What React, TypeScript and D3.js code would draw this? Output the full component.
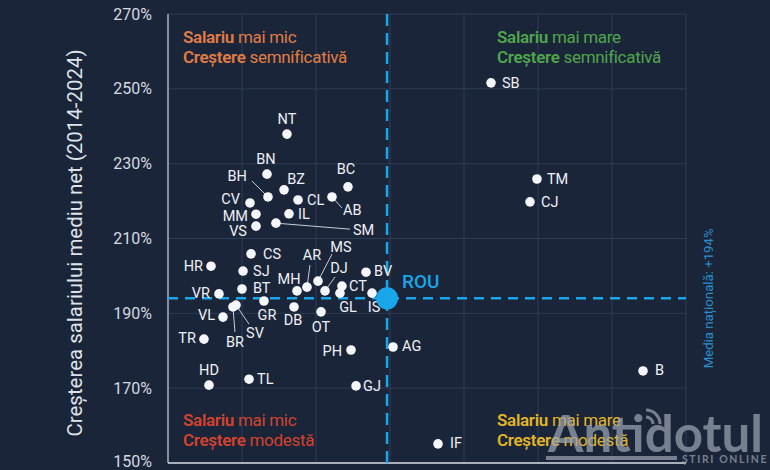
import React from "react";
import * as d3 from "d3";

// Counties (abbrev), 2024 average net salary (lei, approximate), growth 2014-2024 (%)
const counties = ["NT","BN","BH","BZ","CL","AB","BC","CV","MM","IL","VS","SM","CS","HR","SJ","BT","VR","GR","BR","SV","VL","TR","MH","AR","MS","DJ","CT","GL","DB","OT","BV","IS","PH","HD","TL","GJ","AG","B","IF","SB","TM","CJ"];
const salary = [3608,3338,3351,3568,3757,4216,4432,3108,3189,3635,3189,3459,3122,2581,3014,3000,2689,3297,2878,2919,2743,2486,3743,3878,4027,4122,4351,4324,3703,4068,4676,4757,4473,2554,3095,4541,5041,8419,5649,6365,6986,6892];
const growth = [237.9,227.2,221.1,223.0,220.3,221.1,223.8,219.5,216.5,216.6,213.3,214.1,205.9,202.6,201.3,196.5,195.2,193.3,191.7,192.2,189.0,183.1,196.0,197.0,198.6,196.0,197.3,195.4,191.7,190.4,201.0,195.4,180.2,170.8,172.4,170.6,181.0,174.6,155.1,251.6,225.9,219.8];

const nationalSalary = 4960;
const nationalGrowth = 194;
const yTicks = [150, 170, 190, 210, 230, 250, 270];
const xGrid = [2000, 3000, 4000, 5000, 6000, 7000, 8000, 9000];

// label placement (offsets in px from the dot), kept apart from the data
type P = { dx: number; dy: number; a: "start" | "middle" | "end"; l?: [number, number] };
const placement: Record<string, P> = {
  NT: { dx: 0, dy: -15, a: "middle" },
  BN: { dx: -1, dy: -15, a: "middle" },
  BH: { dx: -21, dy: -21, a: "end", l: [-16, -16] },
  BZ: { dx: 12, dy: -11, a: "middle" },
  CL: { dx: 9, dy: 0, a: "start" },
  AB: { dx: 11, dy: 13, a: "start", l: [10, 11] },
  BC: { dx: -2, dy: -18, a: "middle" },
  CV: { dx: -10, dy: -4, a: "end" },
  MM: { dx: -8, dy: 2, a: "end" },
  IL: { dx: 9, dy: 0, a: "start" },
  VS: { dx: -9, dy: 5, a: "end" },
  SM: { dx: 77, dy: 7, a: "start", l: [74, 6] },
  CS: { dx: 12, dy: 0, a: "start" },
  HR: { dx: -8, dy: 0, a: "end" },
  SJ: { dx: 10, dy: 0, a: "start" },
  BT: { dx: 11, dy: -1, a: "start" },
  VR: { dx: -9, dy: -1, a: "end" },
  GR: { dx: 3, dy: 14, a: "middle" },
  BR: { dx: 2, dy: 35, a: "middle", l: [2, 25] },
  SV: { dx: 19, dy: 28, a: "middle", l: [13, 19] },
  VL: { dx: -8, dy: -2, a: "end" },
  TR: { dx: -8, dy: -1, a: "end" },
  MH: { dx: -8, dy: -12, a: "middle" },
  AR: { dx: 5, dy: -32, a: "middle", l: [3, -22] },
  MS: { dx: 23, dy: -34, a: "middle", l: [14, -27] },
  DJ: { dx: 14, dy: -23, a: "middle", l: [10, -14] },
  CT: { dx: 7, dy: 0, a: "start" },
  GL: { dx: 8, dy: 14, a: "middle" },
  DB: { dx: -1, dy: 13, a: "middle" },
  OT: { dx: 0, dy: 15, a: "middle" },
  BV: { dx: 8, dy: -1, a: "start" },
  IS: { dx: 2, dy: 14, a: "middle" },
  PH: { dx: -9, dy: 1, a: "end" },
  HD: { dx: 0, dy: -15, a: "middle" },
  TL: { dx: 8, dy: 0, a: "start" },
  GJ: { dx: 7, dy: 0, a: "start" },
  AG: { dx: 9, dy: -1, a: "start" },
  B: { dx: 12, dy: -1, a: "start" },
  IF: { dx: 12, dy: -1, a: "start" },
  SB: { dx: 11, dy: 0, a: "start" },
  TM: { dx: 10, dy: 0, a: "start" },
  CJ: { dx: 11, dy: 0, a: "start" },
};

const W = 770, H = 470;
const M = { left: 168, right: 686, top: 14, bottom: 463 };
const BG = "#1b2539";
const GRID = "#2e3c57";
const BLUE = "#1aa6ea";
const FONT = "Roboto, 'Noto Sans', sans-serif";

export default function App() {
  const x = d3.scaleLinear().domain([2000, 9000]).range([M.left, M.right]);
  const y = d3.scaleLinear().domain([150, 270]).range([M.bottom, M.top]);

  const quad = (
    x0: number, y0: number, color: string, a: string, b: string, c: string, d: string
  ) => (
    <g fill={color} fontFamily={FONT} fontSize={17} letterSpacing={-0.3}>
      <text x={x0} y={y0} dy="0.35em">
        <tspan fontWeight={600}>{a}</tspan>
        <tspan fontWeight={400}>{" " + b}</tspan>
      </text>
      <text x={x0} y={y0 + 20} dy="0.35em">
        <tspan fontWeight={600}>{c}</tspan>
        <tspan fontWeight={400}>{" " + d}</tspan>
      </text>
    </g>
  );

  return (
    <svg width={W} height={H} style={{ position: "absolute", left: 0, top: 0, background: BG }}>
      <rect x={0} y={0} width={W} height={H} fill={BG} />
      {/* grid */}
      {yTicks.map((t) => (
        <line key={"gy" + t} x1={M.left} x2={M.right} y1={y(t)} y2={y(t)} stroke={GRID} strokeWidth={1} />
      ))}
      {xGrid.map((t) => (
        <line key={"gx" + t} x1={x(t)} x2={x(t)} y1={M.top} y2={M.bottom} stroke={GRID} strokeWidth={1} />
      ))}
      {/* axes */}
      <line x1={M.left} x2={M.left} y1={M.top} y2={M.bottom} stroke="#c9ced8" strokeWidth={1.2} />
      <line x1={M.left} x2={M.right} y1={M.bottom} y2={M.bottom} stroke="#d6dae2" strokeWidth={1.5} />
      {yTicks.map((t) => (
        <text key={"ty" + t} x={152} y={Math.min(y(t), 461)} dy="0.35em" textAnchor="end" fill="#d5d9e0"
          fontFamily={FONT} fontSize={16}>{t}%</text>
      ))}
      <text transform={`translate(75,243) rotate(-90)`} textAnchor="middle" dy="0.35em"
        fill="#dfe3ea" fontFamily={FONT} fontSize={20} textLength={387} lengthAdjust="spacingAndGlyphs">
        Creșterea salariului mediu net (2014-2024)
      </text>

      {/* quadrant labels */}
      {quad(183, 37, "#e07d45", "Salariu", "mai mic", "Creștere", "semnificativă")}
      {quad(497, 37, "#4fa64b", "Salariu", "mai mare", "Creștere", "semnificativă")}
      {quad(183, 420, "#d2432f", "Salariu", "mai mic", "Creștere", "modestă")}
      {quad(497, 420, "#e2b526", "Salariu", "mai mare", "Creștere", "modestă")}

      {/* national average lines */}
      <line x1={M.left} x2={M.right} y1={y(nationalGrowth)} y2={y(nationalGrowth)} stroke={BLUE}
        strokeWidth={2.5} strokeDasharray="10 7" />
      <line x1={x(nationalSalary)} x2={x(nationalSalary)} y1={M.top} y2={M.bottom} stroke={BLUE}
        strokeWidth={2.5} strokeDasharray="12 7" />
      <text transform={`translate(708,${y(nationalGrowth)}) rotate(-90)`} textAnchor="middle" dy="0.35em"
        fill="#2a8fd0" fontFamily={FONT} fontSize={13.5} textLength={140} lengthAdjust="spacingAndGlyphs">
        Media națională: +194%
      </text>

      {/* leader lines */}
      {counties.map((c, i) => {
        const p = placement[c];
        if (!p || !p.l) return null;
        const cx = x(salary[i]), cy = y(growth[i]);
        return <line key={"l" + c} x1={cx} y1={cy} x2={cx + p.l[0]} y2={cy + p.l[1]} stroke="#c7ccd6" strokeWidth={1} />;
      })}
      {/* points */}
      {counties.map((c, i) => (
        <circle key={"p" + c} cx={x(salary[i])} cy={y(growth[i])} r={4.8} fill="#f4f6f9" />
      ))}
      {counties.map((c, i) => {
        const p = placement[c];
        return (
          <text key={"t" + c} x={x(salary[i]) + p.dx} y={y(growth[i]) + p.dy} dy="0.35em" textAnchor={p.a}
            fill="#eef1f5" fontFamily={FONT} fontSize={14.5}>{c}</text>
        );
      })}
      {/* national point */}
      <circle cx={x(nationalSalary)} cy={y(nationalGrowth)} r={11} fill={BLUE} />
      <text x={x(nationalSalary) + 15} y={y(nationalGrowth) - 17} dy="0.35em" fill={BLUE}
        fontFamily={FONT} fontSize={19} fontWeight={500}>ROU</text>

      {/* watermark */}
      <g opacity={0.72} fill="#9aa3b1">
        <text x={548} y={452} fontFamily="Lato, 'Noto Sans', sans-serif" fontWeight={700} fontSize={52}
          textLength={215} lengthAdjust="spacingAndGlyphs">Antidotul</text>
        <rect x={546} y={456} width={131} height={4} />
        <text x={682} y={463} fontFamily="Lato, 'Noto Sans', sans-serif" fontWeight={700} fontSize={10.5}
          letterSpacing={1.6}>ȘTIRI ONLINE</text>
        <g fill="none" stroke="#9aa3b1" strokeWidth={3}>
          <path d="M646,417 A7,7 0 0 1 653,424" />
          <path d="M646,410 A14,14 0 0 1 660,424" />
        </g>
      </g>
    </svg>
  );
}
